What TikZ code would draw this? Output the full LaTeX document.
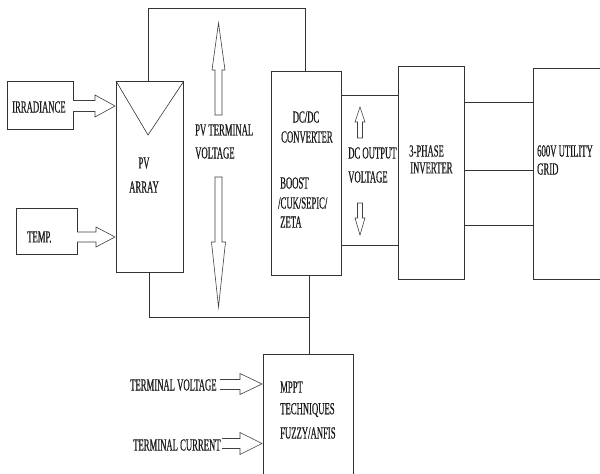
\documentclass[tikz,border=0pt]{standalone}
\usepackage{fontspec}
\newfontfamily\condfont[FakeStretch=0.51,FakeBold=0.4]{Liberation Serif}
\begin{document}
\begin{tikzpicture}[x=1pt,y=-1pt,
  wire/.style={draw=black!80, line width=0.9pt},
  boxline/.style={draw=black!80, line width=0.9pt},
  barrow/.style={draw=black!75, line width=0.6pt, fill=white},
  lbl/.style={inner sep=0pt, anchor=west, font=\condfont\fontsize{17}{17}\selectfont, text=black!90}]
\useasboundingbox (0,0) rectangle (600,474);
% boxes
\node[boxline, inner sep=0pt, minimum width=66pt, minimum height=48pt, anchor=north west] (irr) at (7,81) {};
\node[boxline, inner sep=0pt, minimum width=61pt, minimum height=46pt, anchor=north west] (temp) at (16,208) {};
\node[boxline, inner sep=0pt, minimum width=67pt, minimum height=191pt, anchor=north west] (pv) at (116,81) {};
\node[boxline, inner sep=0pt, minimum width=70pt, minimum height=204pt, anchor=north west] (dcdc) at (271,71) {};
\node[boxline, inner sep=0pt, minimum width=66pt, minimum height=213pt, anchor=north west] (inv) at (398,66) {};
% grid box (cut at right edge)
\coordinate (gridTL) at (533,68);
\coordinate (gridBL) at (533,279);
\draw[boxline] (600,68) -- (gridTL) -- (gridBL) -- (600,279);
% MPPT box (cut at bottom)
\coordinate (mpptTL) at (263,354);
\coordinate (mpptTR) at (353,354);
\draw[boxline] (263,474) -- (mpptTL) -- (mpptTR) -- (353,474);
% triangle in PV
\coordinate (tri) at (148,135);
\draw[wire, line width=0.6pt] (pv.north west) -- (tri) -- (pv.north east);
% wires
\coordinate (w1) at (148,8);
\coordinate (w2) at (305,8);
\draw[wire] (pv.north west -| w1) -- (w1) -- (w2) -- (dcdc.north west -| w2);
\coordinate (b1) at (149,317);
\coordinate (b2) at (309,317);
\draw[wire] (pv.south west -| b1) -- (b1) -- (b2);
\draw[wire] (dcdc.south west -| b2) -- (mpptTL -| b2);
\draw[wire] (dcdc.east |- 0,95) -- (inv.west |- 0,95);
\draw[wire] (dcdc.east |- 0,245) -- (inv.west |- 0,245);
\draw[wire] (inv.east |- 0,102) -- (gridTL |- 0,102);
\draw[wire] (inv.east |- 0,170) -- (gridTL |- 0,170);
\draw[wire] (inv.east |- 0,225) -- (gridTL |- 0,225);
% block arrows
% IRRADIANCE -> PV
\draw[barrow] (73,100.5) -- (95,100.5) -- (95,95) -- (115,106) -- (95,117) -- (95,111.5) -- (73,111.5);
% TEMP -> PV
\draw[barrow] (77,232) -- (96,232) -- (96,227) -- (115,237) -- (96,247) -- (96,242) -- (77,242);
% PV terminal voltage up
\draw[barrow] (215,115) -- (215,70) -- (212,70) -- (218.5,23) -- (225,70) -- (222,70) -- (222,115) -- cycle;
% PV terminal voltage down
\draw[barrow] (215,177) -- (215,242) -- (211.5,242) -- (218.5,307) -- (225.5,242) -- (222,242) -- (222,177) -- cycle;
% DC output up
\draw[barrow] (357.5,138) -- (357.5,122) -- (355,122) -- (360,107) -- (365,122) -- (362.5,122) -- (362.5,138) -- cycle;
% DC output down
\draw[barrow] (357.5,203) -- (357.5,218) -- (355,218) -- (360,235) -- (365,218) -- (362.5,218) -- (362.5,203) -- cycle;
% terminal voltage -> MPPT
\draw[barrow] (220,379.5) -- (240,379.5) -- (240,373.5) -- (262,384) -- (240,394.5) -- (240,389.5) -- (220,389.5);
% terminal current -> MPPT
\draw[barrow] (222,438.5) -- (240,438.5) -- (240,432.5) -- (262,443.5) -- (240,454.5) -- (240,448.5) -- (222,448.5);
% labels
\node[lbl] (tirr) at (12,107) {IRRADIANCE};
\node[lbl] (ttemp) at (27,237) {TEMP.};
\node[lbl, anchor=center] (tpv1) at (144,163) {PV};
\node[lbl, anchor=center] (tpv2) at (144,187) {ARRAY};
\node[lbl] (tpvt1) at (195,130) {PV TERMINAL};
\node[lbl] (tpvt2) at (195,153) {VOLTAGE};
\node[lbl, anchor=center] (tdc1) at (306,117) {DC/DC};
\node[lbl] (tdc2) at (281,137) {CONVERTER};
\node[lbl] (tdc3) at (280,183) {BOOST};
\node[lbl] (tdc4) at (278,203) {/CUK/SEPIC/};
\node[lbl] (tdc5) at (280,222) {ZETA};
\node[lbl] (tdo1) at (348,153) {DC OUTPUT};
\node[lbl] (tdo2) at (348,177) {VOLTAGE};
\node[lbl] (tinv1) at (409,151) {3-PHASE};
\node[lbl] (tinv2) at (410,168) {INVERTER};
\node[lbl] (tgrid1) at (537,151) {600V UTILITY};
\node[lbl] (tgrid2) at (537,169) {GRID};
\node[lbl] (tm1) at (280,387) {MPPT};
\node[lbl] (tm2) at (280,410) {TECHNIQUES};
\node[lbl] (tm3) at (280,433) {FUZZY/ANFIS};
\node[lbl] (ttv) at (130,385) {TERMINAL VOLTAGE};
\node[lbl] (ttc) at (133,445) {TERMINAL CURRENT};
\end{tikzpicture}
\end{document}
